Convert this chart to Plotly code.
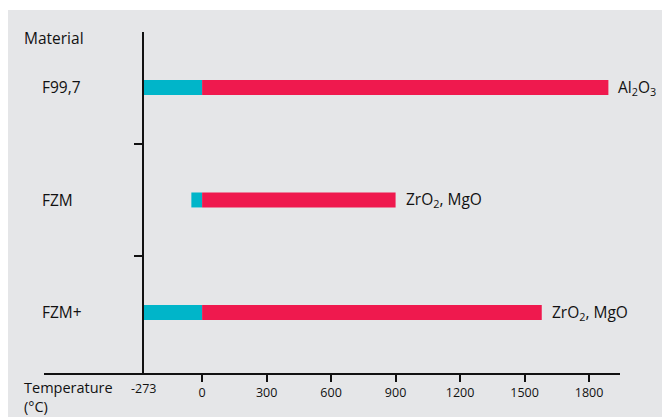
import plotly.graph_objects as go

materials = ["F99,7", "FZM", "FZM+"]
min_temp = [-273, -50, -273]
max_temp = [1890, 900, 1580]
composition = ["Al<sub>2</sub>O<sub>3</sub>", "ZrO<sub>2</sub>, MgO", "ZrO<sub>2</sub>, MgO"]
x_ticks = [0, 300, 600, 900, 1200, 1500, 1800]
abs_zero = -273

CYAN = "#00B5C9"
RED = "#EF194E"
BG = "#E5E6E8"
TXT = "#111111"
FONT = "Open Sans"

# page has an 8px body margin; work in page coords and convert
OFF = 8
W, H = 670 - OFF, 417 - OFF
px_left, px_right, px_top, px_bottom = 44, 620.5, 32, 373
L = px_left - OFF
R = W - (px_right - OFF)
T = px_top - OFF
B = H - (px_bottom - OFF)
pw = W - L - R
ph = H - T - B


def fx(px):
    return (px - px_left) / pw


def fy(py):
    return (px_bottom - py) / ph


ypos = list(range(len(materials)))

fig = go.Figure()
fig.add_trace(go.Bar(
    y=ypos, x=[0 - v for v in min_temp], base=min_temp,
    orientation="h", marker=dict(color=CYAN, line=dict(width=0)),
    width=0.133, showlegend=False, hoverinfo="skip"))
fig.add_trace(go.Bar(
    y=ypos, x=max_temp, base=[0] * len(max_temp),
    orientation="h", marker=dict(color=RED, line=dict(width=0)),
    width=0.133, showlegend=False, hoverinfo="skip"))

xmin, xmax = -735.5, 1944
ypos_frac = (abs_zero - xmin) / (xmax - xmin)

FS = 15.5
annotations = []
for i, (m, mx, comp) in enumerate(zip(materials, max_temp, composition)):
    annotations.append(dict(x=fx(40), xref="paper", y=i, yref="y",
                            text=m, showarrow=False, xanchor="left", yanchor="middle",
                            font=dict(family=FONT, size=FS, color=TXT)))
    annotations.append(dict(x=mx, xref="x", y=i, yref="y", text=comp,
                            showarrow=False, xanchor="left", yanchor="middle",
                            xshift=8, font=dict(family=FONT, size=FS, color=TXT)))

annotations.append(dict(x=fx(22), xref="paper", y=fy(38), yref="paper",
                        text="Material", showarrow=False,
                        xanchor="left", yanchor="middle",
                        font=dict(family=FONT, size=FS, color=TXT)))
annotations.append(dict(x=fx(22), xref="paper", y=fy(397), yref="paper",
                        text="Temperature<br>(°C)", showarrow=False,
                        xanchor="left", yanchor="middle", align="left",
                        font=dict(family=FONT, size=FS - 1, color=TXT)))
annotations.append(dict(x=abs_zero, xref="x", y=fy(388), yref="paper",
                        text=str(abs_zero), showarrow=False, xanchor="center",
                        yanchor="middle", font=dict(family=FONT, size=12.5, color=TXT)))

fig.update_layout(
    width=W, height=H,
    margin=dict(l=L, r=R, t=T, b=B),
    paper_bgcolor="white", plot_bgcolor=BG,
    barmode="overlay",
    font=dict(family=FONT, color=TXT),
    xaxis=dict(range=[xmin, xmax], tickvals=x_ticks, ticktext=[str(v) for v in x_ticks],
               showgrid=False, zeroline=False, showline=True, linecolor="#111",
               linewidth=2, ticks="outside", ticklen=7, tickwidth=1.5, tickcolor="#111",
               tickfont=dict(family=FONT, size=12.5, color=TXT), fixedrange=True),
    yaxis=dict(range=[2.538, -0.493], anchor="free", position=ypos_frac,
               tickvals=[0.5, 1.5], showticklabels=False, showgrid=False,
               zeroline=False, showline=True, linecolor="#111", linewidth=2,
               ticks="outside", ticklen=8, tickwidth=1.5, tickcolor="#111",
               fixedrange=True),
    shapes=[dict(type="rect", xref="paper", yref="paper",
                 x0=fx(6), x1=fx(680), y0=fy(430), y1=fy(10),
                 fillcolor=BG, line=dict(width=0), layer="below")],
    annotations=annotations,
)

fig.write_html("out.html")
